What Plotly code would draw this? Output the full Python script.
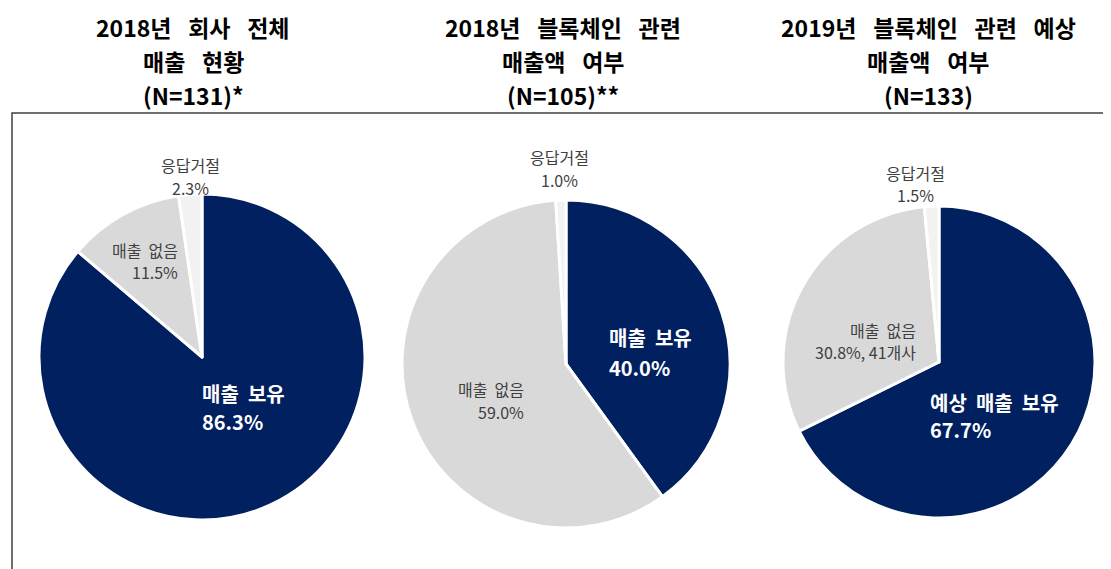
import plotly.graph_objects as go

# chart data
titles = [
    ["2018년 회사 전체", "매출 현황", "(N=131)*"],
    ["2018년 블록체인 관련", "매출액 여부", "(N=105)**"],
    ["2019년 블록체인 관련 예상", "매출액 여부", "(N=133)"],
]
labels_2018_total = ["매출 보유", "매출 없음", "응답거절"]
values_2018_total = [86.3, 11.5, 2.3]
labels_2018_bc = ["매출 보유", "매출 없음", "응답거절"]
values_2018_bc = [40.0, 59.0, 1.0]
labels_2019_bc = ["예상 매출 보유", "매출 없음", "응답거절"]
values_2019_bc = [67.7, 30.8, 1.5]
extra_2019 = ["", "41개사", ""]

colors = ["#002060", "#d9d9d9", "#f2f2f2"]
PAGE_W, PAGE_H = 1111, 569
OFF = 8  # default body margin of the html page
W, H = PAGE_W - OFF, PAGE_H - OFF
FONT = "Noto Sans CJK KR"

# page pixel -> paper coords
def px(x):
    return (x - OFF) / W

def py(y):
    return 1 - (y - OFF) / H

# pie boxes in pixels: (left, right, top, bottom)
boxes = [(39, 365, 194, 520), (402, 730, 200, 528), (783, 1095, 206, 518)]
title_x = [193, 563, 928]

# label placement per slice: x, y line1, y line2, anchor
label_pos = [
    [(200, 393, 421, "left"), (180, 250, 272, "right"), (190, 165, 188, "center")],
    [(607, 337, 367, "left"), (526, 389, 412, "right"), (559, 157, 180, "center")],
    [(928, 402, 429, "left"), (918, 330, 352, "right"), (915, 173, 195, "center")],
]

pies = [
    (labels_2018_total, values_2018_total, ["", "", ""]),
    (labels_2018_bc, values_2018_bc, ["", "", ""]),
    (labels_2019_bc, values_2019_bc, extra_2019),
]

fig = go.Figure()

for i, (labels, values, extra) in enumerate(pies):
    l, r, t, b = boxes[i]
    fig.add_trace(go.Pie(
        labels=labels, values=values, sort=False, direction="clockwise",
        rotation=0, textinfo="none", hoverinfo="label+percent",
        marker=dict(colors=colors, line=dict(color="white", width=3)),
        domain=dict(x=[px(l), px(r)], y=[py(b), py(t)]),
        showlegend=False,
    ))
    # slice labels
    for j, (lab, val) in enumerate(zip(labels, values)):
        x, y1, y2, anchor = label_pos[i][j]
        second = f"{val:.1f}%"
        if extra[j]:
            second += f", {extra[j]}"
        if j == 0:
            fnt = dict(family=FONT, size=20, color="white", weight="bold")
        else:
            fnt = dict(family=FONT, size=16, color="#404040")
        for txt, yy in [(lab.replace(" ", "\u00a0\u00a0"), y1), (second, y2)]:
            fig.add_annotation(x=px(x), y=py(yy), xref="paper", yref="paper",
                               text=txt, showarrow=False, xanchor=anchor,
                               yanchor="middle", font=fnt)
    # titles
    for k, line in enumerate(titles[i]):
        fig.add_annotation(x=px(title_x[i]), y=py(27 + k * 34), xref="paper",
                           yref="paper", text=line.replace(" ", "\u2002\u00a0"),
                           showarrow=False, xanchor="center", yanchor="middle",
                           font=dict(family=FONT, size=23, color="black",
                                     weight="bold"))

# frame around the pies
fig.add_shape(type="rect", xref="paper", yref="paper",
              x0=px(12), x1=px(1107), y0=-0.1, y1=py(113),
              line=dict(color="#404040", width=1.5), fillcolor="rgba(0,0,0,0)")

fig.update_layout(width=W, height=H, margin=dict(l=0, r=0, t=0, b=0),
                  paper_bgcolor="white", plot_bgcolor="white",
                  font=dict(family=FONT))

fig.write_html("out.html")
